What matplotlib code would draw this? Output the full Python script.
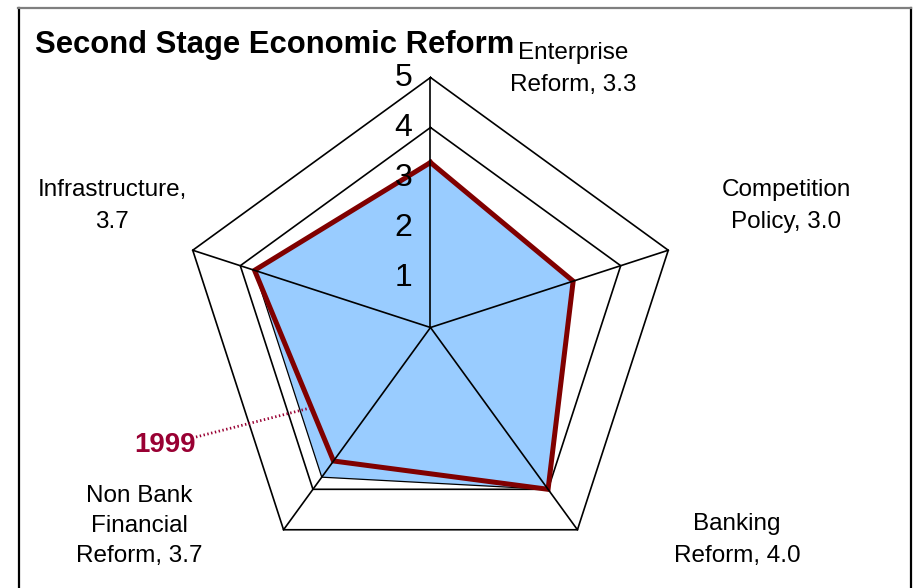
import numpy as np
import matplotlib
matplotlib.use("Agg")
import matplotlib.pyplot as plt
from matplotlib.lines import Line2D

plt.rcParams['font.family'] = ['Liberation Sans', 'DejaVu Sans']

categories = ["Enterprise\nReform, 3.3", "Competition\nPolicy, 3.0", "Banking\nReform, 4.0",
              "Non Bank\nFinancial\nReform, 3.7", "Infrastructure,\n3.7"]
values_current = [3.3, 3.0, 4.0, 3.7, 3.7]
values_1999 = [3.3, 3.0, 4.0, 3.3, 3.7]
ring_levels = [1, 2, 3, 4, 5]
ring_labels = ["1", "2", "3", "4", "5"]
title = "Second Stage Economic Reform"
series_label = "1999"

W, H = 917, 588
CX, CY, SCALE = 430.5, 327.5, 50.0

fig = plt.figure(figsize=(W / 100, H / 100), dpi=100)
ax = fig.add_axes([0, 0, 1, 1])
ax.set_xlim(-CX / SCALE, (W - CX) / SCALE)
ax.set_ylim(-(H - CY) / SCALE, CY / SCALE)
ax.axis('off')

def px(x, y):
    return (x - CX) / SCALE, (CY - y) / SCALE

n = len(categories)
angles = np.pi / 2 - 2 * np.pi * np.arange(n) / n

def xy(vals):
    v = np.asarray(vals, float)
    x = v * np.cos(angles)
    y = v * np.sin(angles)
    return np.append(x, x[0]), np.append(y, y[0])

# rings
for lv in ring_levels:
    rx, ry = xy([lv] * n)
    ax.plot(rx, ry, color='black', lw=1.2, zorder=1)

# filled series
fx, fy = xy(values_current)
ax.fill(fx, fy, facecolor='#99CCFF', edgecolor='black', lw=0.9, zorder=2)

# 1999 line
lx, ly = xy(values_1999)
ax.plot(lx, ly, color='#800000', lw=3.6, solid_joinstyle='miter', zorder=3)

# spokes
for a in angles:
    ax.plot([0, 5 * np.cos(a)], [0, 5 * np.sin(a)], color='black', lw=1.2, zorder=4)

# radial labels
for lv, lab in zip(ring_levels, ring_labels):
    ax.text(-18 / SCALE, lv, lab, ha='right', va='center', fontsize=23, zorder=5)

# category labels
label_pos = [(573, 69), (786, 206), (737, 540), (139, 526), (112, 206)]
for lab, (x, y) in zip(categories, label_pos):
    ax.text(*px(x, y), lab, ha='center', va='center', fontsize=17.5,
            linespacing=1.45 if lab.count("\n") > 1 else 1.6)

# title
ax.text(*px(35, 45), title, ha='left', va='center', fontsize=22.3, fontweight='bold')

# series label with dotted leader
ax.text(*px(165, 445), series_label, ha='center', va='center', fontsize=20,
        fontweight='bold', color='#990033')
ax.plot(*zip(px(196, 437), px(310, 408)), color='#990033', lw=2.0, ls=(0, (0.5, 0.9)),
        zorder=6)

# frame
fig.add_artist(Line2D([18.5 / W, 18.5 / W], [0, (H - 8) / H], color='black', lw=1.6))
fig.add_artist(Line2D([910.5 / W, 910.5 / W], [0, (H - 8) / H], color='black', lw=1.6))
fig.add_artist(Line2D([18 / W, 911 / W], [(H - 8) / H, (H - 8) / H], color='#7f7f7f', lw=1.6))

fig.savefig("out.png", dpi=100)
